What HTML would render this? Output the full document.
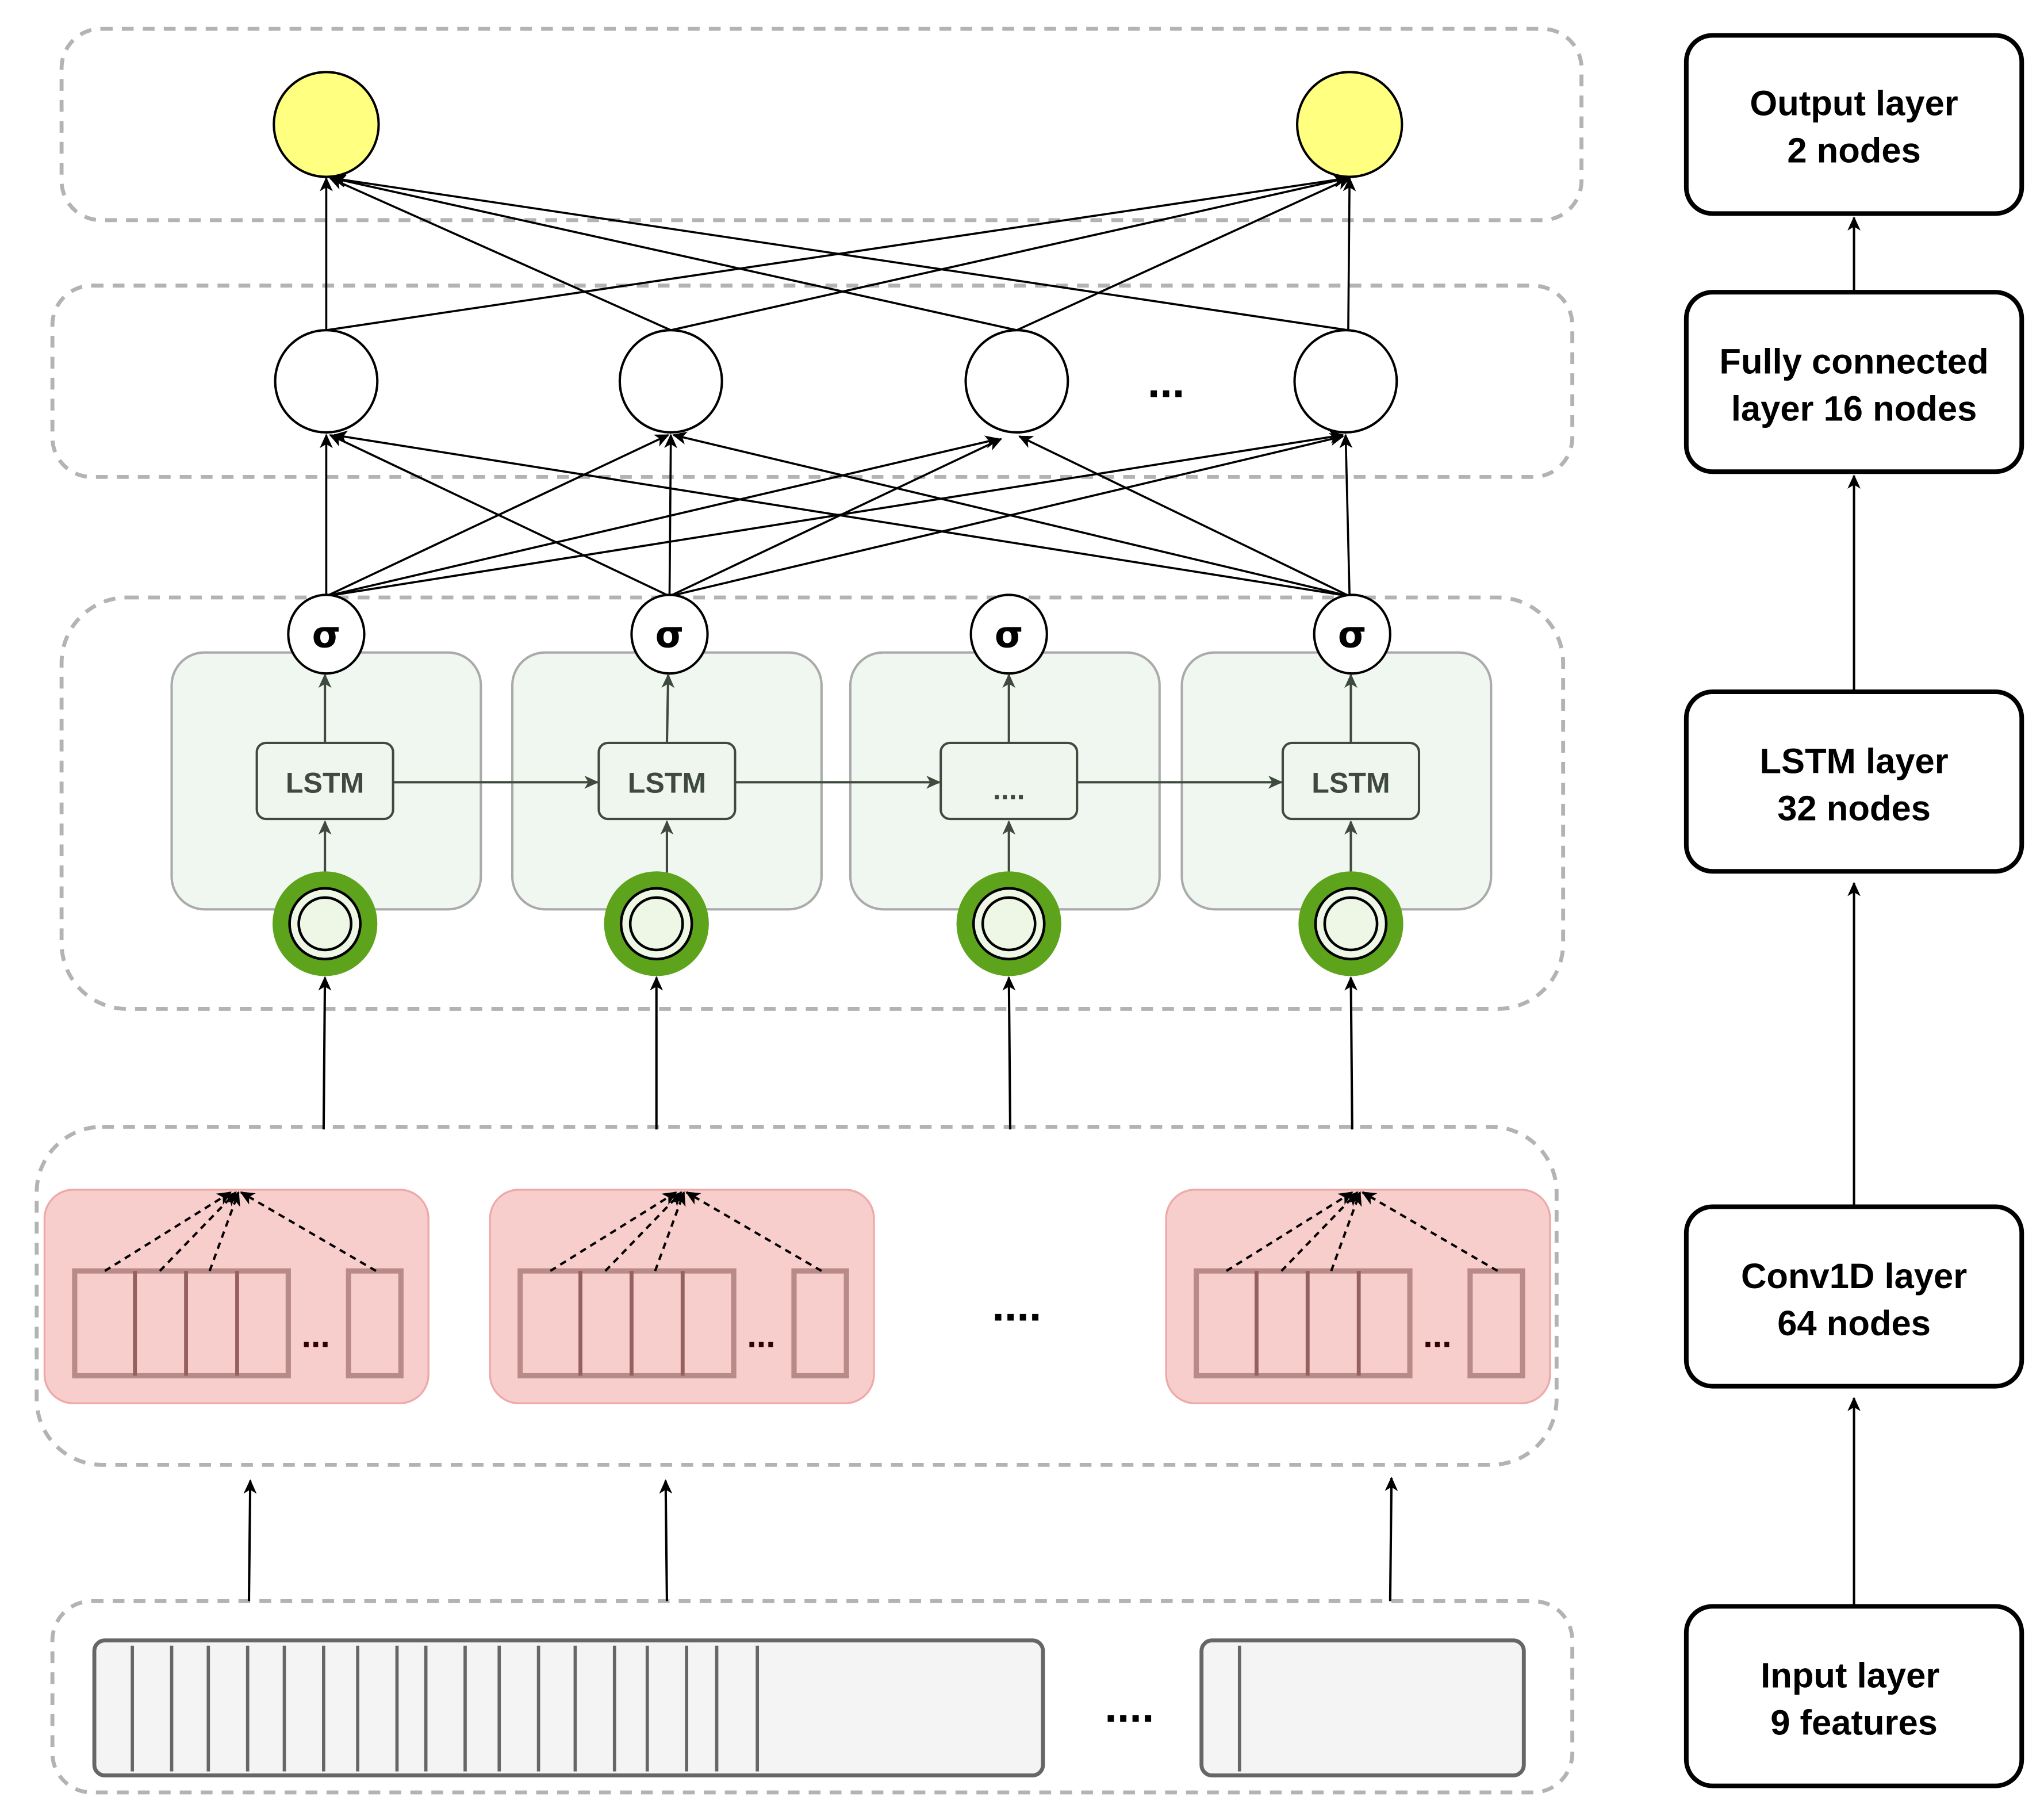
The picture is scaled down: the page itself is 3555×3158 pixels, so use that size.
<!DOCTYPE html>
<html><head><meta charset="utf-8"><style>html,body{margin:0;padding:0;background:#fff}svg{display:block}</style></head>
<body>
<svg width="3555" height="3158" viewBox="0 0 1560 1386" preserveAspectRatio="none" xmlns="http://www.w3.org/2000/svg" font-family="Liberation Sans, sans-serif">
<defs>
<marker id="a" markerWidth="12" markerHeight="12" refX="10" refY="5" orient="auto" markerUnits="userSpaceOnUse"><path d="M0,0 L11,5 L0,10 L3,5 z" fill="#000"/></marker>
<marker id="g" markerWidth="12" markerHeight="12" refX="10" refY="5" orient="auto" markerUnits="userSpaceOnUse"><path d="M0,0 L11,5 L0,10 L3,5 z" fill="#3f4a3f"/></marker>
</defs>
<g fill="none" stroke="#b3b3b3" stroke-width="3" stroke-dasharray="9,7">
<rect x="47" y="22" width="1160" height="146" rx="30"/>
<rect x="40" y="218" width="1160" height="146" rx="30"/>
<rect x="47" y="456" width="1146" height="314" rx="50"/>
<rect x="28" y="860" width="1160" height="258" rx="50"/>
<rect x="40" y="1222" width="1160" height="146" rx="30"/>
</g>
<!-- FC to output lines -->
<g stroke="#000" stroke-width="1.6" marker-end="url(#a)">
<line x1="249" y1="252" x2="249" y2="136"/><line x1="249" y1="252" x2="1028" y2="136"/>
<line x1="512" y1="252" x2="252" y2="136"/><line x1="512" y1="252" x2="1028" y2="136"/>
<line x1="776" y1="252" x2="254" y2="136"/><line x1="776" y1="252" x2="1030" y2="136"/>
<line x1="1029" y1="252" x2="254" y2="136"/><line x1="1029" y1="252" x2="1030" y2="136"/>
</g>
<!-- sigma to FC lines -->
<g stroke="#000" stroke-width="1.6" marker-end="url(#a)">
<line x1="249" y1="455" x2="249" y2="332"/><line x1="249" y1="455" x2="510" y2="332"/><line x1="249" y1="455" x2="762" y2="335"/><line x1="249" y1="455" x2="1025" y2="332"/>
<line x1="511" y1="455" x2="252" y2="332"/><line x1="511" y1="455" x2="512" y2="332"/><line x1="511" y1="455" x2="764" y2="335"/><line x1="511" y1="455" x2="1025" y2="333"/>
<line x1="1030" y1="455" x2="255" y2="332"/><line x1="1030" y1="455" x2="514" y2="332"/><line x1="1030" y1="455" x2="778" y2="333"/><line x1="1030" y1="455" x2="1027" y2="332"/>
</g>
<g fill="#ffff80" stroke="#000" stroke-width="1.8">
<circle cx="249" cy="95" r="40"/><circle cx="1030" cy="95" r="40"/>
</g>
<g fill="#fff" stroke="#000" stroke-width="1.8">
<circle cx="249" cy="291" r="39"/><circle cx="512" cy="291" r="39"/><circle cx="776" cy="291" r="39"/><circle cx="1027" cy="291" r="39"/>
</g>
<text x="890" y="303" font-size="34" font-weight="bold" text-anchor="middle">...</text>
<!-- LSTM cells -->
<g fill="#eef6ee" fill-opacity="0.9" stroke="#aaa" stroke-width="1.8">
<rect x="131" y="498" width="236" height="196" rx="25"/><rect x="391" y="498" width="236" height="196" rx="25"/>
<rect x="649" y="498" width="236" height="196" rx="25"/><rect x="902" y="498" width="236" height="196" rx="25"/>
</g>
<g fill="#fff" stroke="#000" stroke-width="1.8">
<ellipse cx="249" cy="484" rx="29" ry="30"/><ellipse cx="511" cy="484" rx="29" ry="30"/><ellipse cx="770" cy="484" rx="29" ry="30"/><ellipse cx="1032" cy="484" rx="29" ry="30"/>
</g>
<g font-size="28" font-weight="bold" text-anchor="middle" font-family="DejaVu Sans, sans-serif">
<text x="249" y="494">σ</text><text x="511" y="494">σ</text><text x="770" y="494">σ</text><text x="1032" y="494">σ</text>
</g>
<g stroke="#3f4a3f" stroke-width="1.8" marker-end="url(#g)">
<line x1="248" y1="567" x2="248" y2="515"/><line x1="509" y1="567" x2="510" y2="515"/><line x1="770" y1="567" x2="770" y2="515"/><line x1="1031" y1="567" x2="1031" y2="515"/>
<line x1="248" y1="668" x2="248" y2="627"/><line x1="509" y1="668" x2="509" y2="627"/><line x1="770" y1="668" x2="770" y2="627"/><line x1="1031" y1="668" x2="1031" y2="627"/>
<line x1="300" y1="597" x2="456" y2="597"/><line x1="561" y1="597" x2="717" y2="597"/><line x1="822" y1="597" x2="978" y2="597"/>
</g>
<g fill="#eef6ee" stroke="#3f4a3f" stroke-width="1.8">
<rect x="196" y="567" width="104" height="58" rx="7"/><rect x="457" y="567" width="104" height="58" rx="7"/>
<rect x="718" y="567" width="104" height="58" rx="7"/><rect x="979" y="567" width="104" height="58" rx="7"/>
</g>
<g font-size="22" font-weight="bold" text-anchor="middle" fill="#3f4a3f">
<text x="248" y="605">LSTM</text><text x="509" y="605">LSTM</text><text x="770" y="610">....</text><text x="1031" y="605">LSTM</text>
</g>
<!-- green rings -->
<g>
<g transform="translate(248,705)"><circle r="40" fill="#5ea31c"/><circle r="27" fill="#eef6e6" stroke="#000" stroke-width="2"/><circle r="20" fill="none" stroke="#000" stroke-width="2"/></g>
<g transform="translate(501,705)"><circle r="40" fill="#5ea31c"/><circle r="27" fill="#eef6e6" stroke="#000" stroke-width="2"/><circle r="20" fill="none" stroke="#000" stroke-width="2"/></g>
<g transform="translate(770,705)"><circle r="40" fill="#5ea31c"/><circle r="27" fill="#eef6e6" stroke="#000" stroke-width="2"/><circle r="20" fill="none" stroke="#000" stroke-width="2"/></g>
<g transform="translate(1031,705)"><circle r="40" fill="#5ea31c"/><circle r="27" fill="#eef6e6" stroke="#000" stroke-width="2"/><circle r="20" fill="none" stroke="#000" stroke-width="2"/></g>
</g>
<g stroke="#000" stroke-width="1.8" marker-end="url(#a)">
<line x1="247" y1="862" x2="248" y2="746"/><line x1="501" y1="862" x2="501" y2="746"/><line x1="771" y1="862" x2="770" y2="746"/><line x1="1032" y1="862" x2="1031" y2="746"/>
<line x1="190" y1="1222" x2="191" y2="1130"/><line x1="509" y1="1222" x2="508" y2="1130"/><line x1="1061" y1="1222" x2="1062" y2="1128"/>
</g>
<!-- conv boxes -->
<g id="cv">
<rect x="34" y="908" width="293" height="163" rx="22" fill="#f8cecc" stroke="#eeaaaa" stroke-width="1.5"/>
<g fill="none" stroke="#b88a88" stroke-width="4"><rect x="57" y="970" width="163" height="80"/><rect x="266" y="970" width="40" height="80"/></g>
<g stroke="#946060" stroke-width="3"><line x1="103" y1="970" x2="103" y2="1050"/><line x1="142" y1="970" x2="142" y2="1050"/><line x1="181" y1="970" x2="181" y2="1050"/></g>
<text x="241" y="1028" font-size="26" font-weight="bold" text-anchor="middle" fill="#300">...</text>
<g stroke="#000" stroke-width="1.8" stroke-dasharray="5,4" marker-end="url(#a)">
<line x1="80" y1="970" x2="176" y2="910"/><line x1="122" y1="970" x2="180" y2="910"/><line x1="160" y1="970" x2="182" y2="910"/><line x1="287" y1="970" x2="184" y2="910"/>
</g>
</g>
<use href="#cv" x="340"/>
<use href="#cv" x="856"/>
<text x="776" y="1008" font-size="34" font-weight="bold" text-anchor="middle">....</text>
<!-- input stacks -->
<rect x="72" y="1252" width="724" height="103" rx="8" fill="#f4f4f4" stroke="#666" stroke-width="3"/>
<g stroke="#666" stroke-width="2.5">
<line x1="101" y1="1256" x2="101" y2="1352"/><line x1="131" y1="1256" x2="131" y2="1352"/><line x1="159" y1="1256" x2="159" y2="1352"/><line x1="189" y1="1256" x2="189" y2="1352"/><line x1="217" y1="1256" x2="217" y2="1352"/><line x1="247" y1="1256" x2="247" y2="1352"/><line x1="273" y1="1256" x2="273" y2="1352"/><line x1="303" y1="1256" x2="303" y2="1352"/><line x1="325" y1="1256" x2="325" y2="1352"/><line x1="355" y1="1256" x2="355" y2="1352"/><line x1="381" y1="1256" x2="381" y2="1352"/><line x1="411" y1="1256" x2="411" y2="1352"/><line x1="439" y1="1256" x2="439" y2="1352"/><line x1="469" y1="1256" x2="469" y2="1352"/><line x1="494" y1="1256" x2="494" y2="1352"/><line x1="524" y1="1256" x2="524" y2="1352"/><line x1="547" y1="1256" x2="547" y2="1352"/><line x1="578" y1="1256" x2="578" y2="1352"/>
</g>
<rect x="917" y="1252" width="246" height="103" rx="8" fill="#f4f4f4" stroke="#666" stroke-width="3"/>
<g stroke="#666" stroke-width="2.5"><line x1="946" y1="1256" x2="946" y2="1352"/></g>
<text x="862" y="1314" font-size="34" font-weight="bold" text-anchor="middle">....</text>
<!-- right column -->
<g stroke="#000" stroke-width="1.8" marker-end="url(#a)">
<line x1="1415" y1="1226" x2="1415" y2="1067"/><line x1="1415" y1="921" x2="1415" y2="674"/><line x1="1415" y1="528" x2="1415" y2="363"/><line x1="1415" y1="223" x2="1415" y2="166"/>
</g>
<g fill="#fff" stroke="#000" stroke-width="3.5">
<rect x="1287" y="27" width="256" height="136" rx="20"/><rect x="1287" y="223" width="256" height="137" rx="20"/>
<rect x="1287" y="528" width="256" height="137" rx="20"/><rect x="1287" y="921" width="256" height="137" rx="20"/>
<rect x="1287" y="1226" width="256" height="137" rx="20"/>
</g>
<g font-size="27" font-weight="bold" text-anchor="middle">
<text x="1415" y="88">Output layer</text><text x="1415" y="124">2 nodes</text>
<text x="1415" y="285">Fully connected</text><text x="1415" y="321">layer 16 nodes</text>
<text x="1415" y="590">LSTM  layer</text><text x="1415" y="626">32 nodes</text>
<text x="1415" y="983">Conv1D  layer</text><text x="1415" y="1019">64 nodes</text>
<text x="1412" y="1288">Input layer</text><text x="1415" y="1324">9 features</text>
</g>
</svg>
</body></html>
